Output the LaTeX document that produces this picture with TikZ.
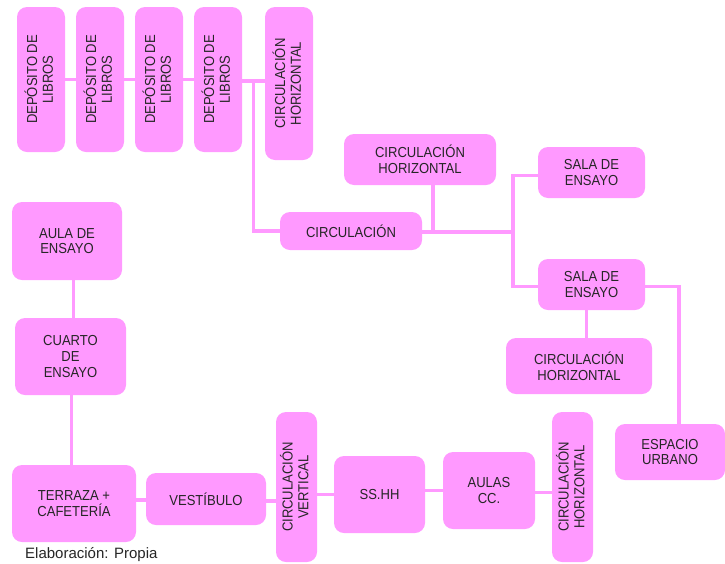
\documentclass[tikz,border=0pt]{standalone}
\usepackage{fontspec}
\setmainfont{Liberation Sans}[FakeStretch=0.9]
\newfontfamily\notefont{Liberation Sans}
\usepackage{tikz}
\usetikzlibrary{positioning,calc}
\usepackage{xcolor}
\definecolor{rosa}{RGB}{255,153,255}
\newcommand{\vtext}[1]{\rotatebox{90}{\begin{tabular}{@{}c@{}}#1\end{tabular}}}

\begin{document}
\begin{tikzpicture}[
    x=1pt, y=-1pt,
    zona/.style={rectangle, fill=rosa, rounded corners=10pt, align=center, inner sep=2pt, text=black!85, font=\fontsize{14.5}{15.7}\selectfont},
    enlace/.style={draw=rosa, line width=3.5pt}
]
    \useasboundingbox (0,0) rectangle (725,563);

    % Fila superior
    \node[zona, minimum width=48, minimum height=145] (dep1) at (41,79.5) {\vtext{DEPÓSITO DE\\LIBROS}};
    \node[zona, minimum width=48, minimum height=145] (dep2) at (100,79.5) {\vtext{DEPÓSITO DE\\LIBROS}};
    \node[zona, minimum width=48, minimum height=145] (dep3) at (159,79.5) {\vtext{DEPÓSITO DE\\LIBROS}};
    \node[zona, minimum width=48, minimum height=145] (dep4) at (218,79.5) {\vtext{DEPÓSITO DE\\LIBROS}};
    \node[zona, minimum width=48, minimum height=153] (circh1) at (289,83.5) {\vtext{CIRCULACIÓN\\HORIZONTAL}};

    % Centro
    \node[zona, minimum width=142, minimum height=38] (circ) at (351,231) {CIRCULACIÓN};
    \node[zona, minimum width=152, minimum height=51] (circh2) at (420,159.5) {CIRCULACIÓN\\HORIZONTAL};
    \node[zona, minimum width=107, minimum height=51] (sala1) at (591.5,172.5) {SALA DE\\ENSAYO};
    \node[zona, minimum width=107, minimum height=51] (sala2) at (591.5,284.5) {SALA DE\\ENSAYO};
    \node[zona, minimum width=146, minimum height=56] (circh3) at (579,366) {CIRCULACIÓN\\HORIZONTAL};
    \node[zona, minimum width=110, minimum height=56] (urbano) at (670,452) {ESPACIO\\URBANO};

    % Columna izquierda
    \node[zona, minimum width=110, minimum height=78] (aula) at (67,241) {AULA DE\\ENSAYO};
    \node[zona, minimum width=111, minimum height=77] (cuarto) at (70.5,356.5) {CUARTO\\DE\\ENSAYO};
    \node[zona, minimum width=124, minimum height=77] (terraza) at (74,503.5) {TERRAZA +\\CAFETERÍA};

    % Fila inferior
    \node[zona, minimum width=120, minimum height=52] (vestibulo) at (206,499) {VESTÍBULO};
    \node[zona, minimum width=41, minimum height=150] (circv) at (296.5,487) {\vtext{CIRCULACIÓN\\VERTICAL}};
    \node[zona, minimum width=91, minimum height=77] (sshh) at (379.5,494.5) {SS.HH};
    \node[zona, minimum width=92, minimum height=77] (aulas) at (489,490.5) {AULAS\\CC.};
    \node[zona, minimum width=41, minimum height=150] (circh4) at (572.5,487) {\vtext{CIRCULACIÓN\\HORIZONTAL}};

    \coordinate (jt) at ($(dep4.east)!0.5!(dep4.east -| circh1.west)$);
    \coordinate (jc) at (433,232);
    \coordinate (jr) at (513,232);

    \draw[enlace] (dep1) -- (dep2);
    \draw[enlace] (dep2) -- (dep3);
    \draw[enlace] (dep3) -- (dep4);
    \draw[enlace] ([yshift=-1.5pt]dep4.east) -- ([yshift=-1.5pt]dep4.east -| circh1.west);
    \draw[enlace] ([yshift=-3pt]jt) |- (circ.west);
    \draw[enlace] (circ.east |- jr) -- (jr);
    \draw[enlace] (circh2.south -| jc) -- (jc);
    \draw[enlace] (jr) |- ([yshift=-3pt]sala1.west);
    \draw[enlace] (jr) |- ([yshift=-2pt]sala2.west);
    \draw[enlace] ([xshift=-5pt]sala2.south) -- ([xshift=-5pt]sala2.south |- circh3.north);
    \draw[enlace] ([yshift=-2pt]sala2.east) -| ([xshift=9pt]urbano.north);

    \draw[enlace] ([xshift=3pt]cuarto.north) -- ([xshift=3pt]cuarto.north |- aula.south);
    \draw[enlace] ([xshift=1pt]cuarto.south) -- ([xshift=1pt]cuarto.south |- terraza.north);
    \draw[enlace] ([yshift=-1pt]vestibulo.west -| terraza.east) -- ([yshift=-1pt]vestibulo.west);
    \draw[enlace] ([yshift=-2pt]vestibulo.east) -- ([yshift=-2pt]vestibulo.east -| circv.west);
    \draw[enlace] (sshh.west -| circv.east) -- (sshh.west);
    \draw[enlace] (aulas.west -| sshh.east) -- (aulas.west);
    \draw[enlace] ([yshift=-2pt]aulas.east) -- ([yshift=-2pt]aulas.east -| circh4.west);

    % Fuente
    \node[anchor=base west, inner sep=0pt, text=black!85, font=\notefont\fontsize{15}{17}\selectfont] (fuente) at (25,558.5) {Elaboración: Propia};
\end{tikzpicture}
\end{document}
